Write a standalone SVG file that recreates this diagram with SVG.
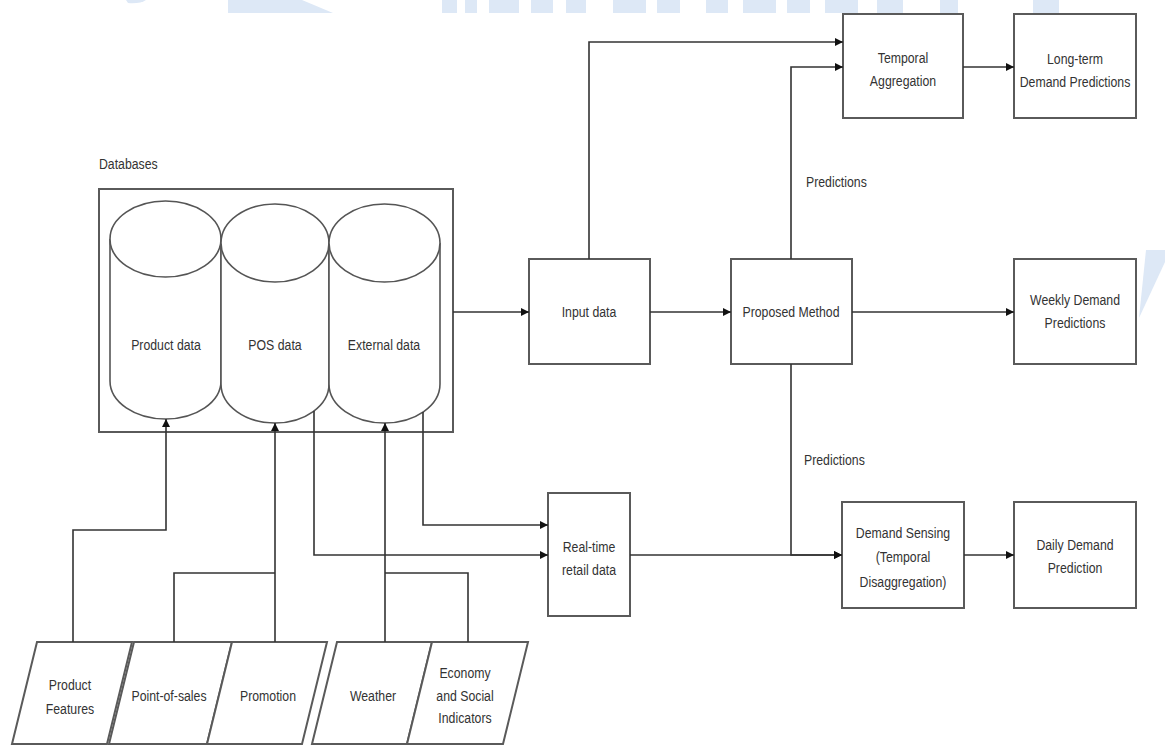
<svg xmlns="http://www.w3.org/2000/svg" width="1165" height="745" viewBox="0 0 1165 745">
<defs>
<style>
.t{font-family:"Liberation Sans",Arial,sans-serif;font-size:15px;fill:#333;text-anchor:middle}
.l{text-anchor:start}
.box{fill:#fff;stroke:#5a5a5a;stroke-width:2}
.cyl{fill:#fff;stroke:#555;stroke-width:1.6}
.c{fill:none;stroke:#333;stroke-width:1.6}
.wm{fill:#dde8f6}
</style>
<marker id="ah" viewBox="0 0 10 10" refX="10" refY="5" markerWidth="8" markerHeight="8" markerUnits="userSpaceOnUse" orient="auto">
<path d="M0,0 L10,5 L0,10 z" fill="#111"/>
</marker>
</defs>
<rect width="1165" height="745" fill="#fff"/>
<g id="watermark">
<path class="wm" d="M126,0 H146 Q140,4 128,3 Z"/>
<path class="wm" d="M228,0 H302 L333,13 H228 Z"/>
<rect class="wm" x="442" y="0" width="15" height="13"/>
<rect class="wm" x="465" y="0" width="12" height="13"/>
<rect class="wm" x="489" y="0" width="30" height="13"/>
<rect class="wm" x="531" y="0" width="22" height="13"/>
<rect class="wm" x="566" y="0" width="20" height="13"/>
<rect class="wm" x="613" y="0" width="33" height="13"/>
<rect class="wm" x="657" y="0" width="23" height="13"/>
<rect class="wm" x="706" y="0" width="22" height="13"/>
<rect class="wm" x="743" y="0" width="33" height="13"/>
<rect class="wm" x="787" y="0" width="23" height="13"/>
<rect class="wm" x="825" y="0" width="33" height="13"/>
<rect class="wm" x="877" y="0" width="26" height="13"/>
<rect class="wm" x="940" y="0" width="18" height="13"/>
<rect class="wm" x="1033" y="0" width="26" height="13"/>
<path class="wm" d="M1146,250 H1165 V262 L1139,318 Z"/>
</g>
<g id="databases">
<rect class="box" x="99" y="189" width="354" height="243"/>
<text class="t l" transform="matrix(.82 0 0 1 99 169)">Databases</text>
</g>
<g id="product-data">
<path class="cyl" d="M110,239 V381 A55.5,38 0 0 0 221,381 V239"/>
<ellipse class="cyl" cx="165.5" cy="239" rx="55.5" ry="38"/>
<text class="t" transform="matrix(.82 0 0 1 166 350)">Product data</text>
</g>
<g id="pos-data">
<path class="cyl" d="M221,243 V384 A54,39 0 0 0 329,384 V243"/>
<ellipse class="cyl" cx="275" cy="243" rx="54" ry="39"/>
<text class="t" transform="matrix(.82 0 0 1 275 350)">POS data</text>
</g>
<g id="external-data">
<path class="cyl" d="M329,243 V384 A55.5,39 0 0 0 440,384 V243"/>
<ellipse class="cyl" cx="384.5" cy="243" rx="55.5" ry="39"/>
<text class="t" transform="matrix(.82 0 0 1 384 350)">External data</text>
</g>
<g id="input-data">
<rect class="box" x="529" y="259" width="121" height="105"/>
<text class="t" transform="matrix(.82 0 0 1 589 317)">Input data</text>
</g>
<g id="proposed-method">
<rect class="box" x="731" y="259" width="121" height="105"/>
<text class="t" transform="matrix(.82 0 0 1 791 317)">Proposed Method</text>
</g>
<g id="temporal-aggregation">
<rect class="box" x="843" y="14" width="120" height="104"/>
<text class="t" transform="matrix(.82 0 0 1 903 63)">Temporal</text>
<text class="t" transform="matrix(.82 0 0 1 903 86)">Aggregation</text>
</g>
<g id="long-term">
<rect class="box" x="1014" y="14" width="122" height="104"/>
<text class="t" transform="matrix(.82 0 0 1 1075 64)">Long-term</text>
<text class="t" transform="matrix(.82 0 0 1 1075 87)">Demand Predictions</text>
</g>
<g id="weekly">
<rect class="box" x="1014" y="259" width="122" height="105"/>
<text class="t" transform="matrix(.82 0 0 1 1075 305)">Weekly Demand</text>
<text class="t" transform="matrix(.82 0 0 1 1075 328)">Predictions</text>
</g>
<g id="real-time">
<rect class="box" x="548" y="493" width="82" height="123"/>
<text class="t" transform="matrix(.82 0 0 1 589 552)">Real-time</text>
<text class="t" transform="matrix(.82 0 0 1 589 575)">retail data</text>
</g>
<g id="demand-sensing">
<rect class="box" x="842" y="502" width="122" height="106"/>
<text class="t" transform="matrix(.82 0 0 1 903 538)">Demand Sensing</text>
<text class="t" transform="matrix(.82 0 0 1 903 562)">(Temporal</text>
<text class="t" transform="matrix(.82 0 0 1 903 587)">Disaggregation)</text>
</g>
<g id="daily">
<rect class="box" x="1014" y="502" width="122" height="106"/>
<text class="t" transform="matrix(.82 0 0 1 1075 550)">Daily Demand</text>
<text class="t" transform="matrix(.82 0 0 1 1075 573)">Prediction</text>
</g>
<g id="product-features">
<path class="box" d="M37,642 H132 L107,744 H12 Z" stroke-width="1.6"/>
<text class="t" transform="matrix(.82 0 0 1 70 690)">Product</text>
<text class="t" transform="matrix(.82 0 0 1 70 714)">Features</text>
</g>
<g id="point-of-sales">
<path class="box" d="M134,642 H232 L207,744 H109 Z" stroke-width="1.6"/>
<text class="t" transform="matrix(.82 0 0 1 169 701)">Point-of-sales</text>
</g>
<g id="promotion">
<path class="box" d="M232,642 H327 L302,744 H207 Z" stroke-width="1.6"/>
<text class="t" transform="matrix(.82 0 0 1 268 701)">Promotion</text>
</g>
<g id="weather">
<path class="box" d="M337,642 H432 L407,744 H312 Z" stroke-width="1.6"/>
<text class="t" transform="matrix(.82 0 0 1 373 701)">Weather</text>
</g>
<g id="economy">
<path class="box" d="M432,642 H528 L503,744 H407 Z" stroke-width="1.6"/>
<text class="t" transform="matrix(.82 0 0 1 465 678)">Economy</text>
<text class="t" transform="matrix(.82 0 0 1 465 701)">and Social</text>
<text class="t" transform="matrix(.82 0 0 1 465 723)">Indicators</text>
</g>
<g id="connectors">
<path class="c" d="M453,312 H529" marker-end="url(#ah)"/>
<path class="c" d="M650,312 H731" marker-end="url(#ah)"/>
<path class="c" d="M852,312 H1014" marker-end="url(#ah)"/>
<path class="c" d="M589,259 V42 H843" marker-end="url(#ah)"/>
<path class="c" d="M791,259 V67 H843" marker-end="url(#ah)"/>
<path class="c" d="M963,67 H1014" marker-end="url(#ah)"/>
<path class="c" d="M791,364 V555 H842" marker-end="url(#ah)"/>
<path class="c" d="M630,555 H842" marker-end="url(#ah)"/>
<path class="c" d="M964,555 H1014" marker-end="url(#ah)"/>
<path class="c" d="M423,412 V525 H548" marker-end="url(#ah)"/>
<path class="c" d="M314,411 V555 H548" marker-end="url(#ah)"/>
<path class="c" d="M73,642 V530 H166 V419" marker-end="url(#ah)"/>
<path class="c" d="M174,642 V573 H275"/>
<path class="c" d="M275,642 V423" marker-end="url(#ah)"/>
<path class="c" d="M385,642 V423" marker-end="url(#ah)"/>
<path class="c" d="M468,642 V573 H385"/>
<text class="t l" transform="matrix(.82 0 0 1 806 187)">Predictions</text>
<text class="t l" transform="matrix(.82 0 0 1 804 465)">Predictions</text>
</g>
</svg>
